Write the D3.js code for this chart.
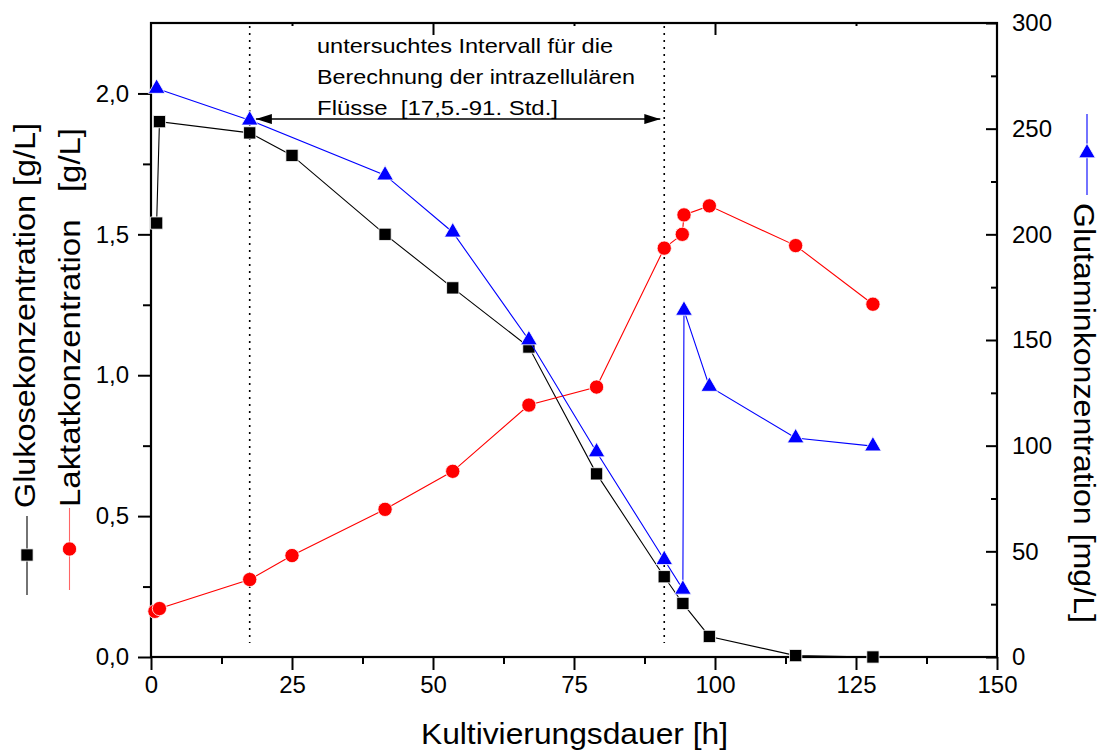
<!DOCTYPE html>
<html>
<head>
<meta charset="utf-8">
<script src="https://cdn.jsdelivr.net/npm/d3@7"></script>
<style>
  body { margin: 0; background: #fff; }
  svg { font-family: "Liberation Sans", Arial, sans-serif; }
  text { white-space: pre; }
</style>
</head>
<body>
<svg id="chart" width="1103" height="753"></svg>
<script>
// glucose (left axis, g/L)
const glcTime = [1, 1.5, 17.5, 25, 41.5, 53.5, 67, 79, 91, 94.3, 99, 114.3, 128]
const glcVal = [1.54, 1.90, 1.86, 1.78, 1.50, 1.31, 1.10, 0.65, 0.285, 0.19, 0.073, 0.005, 0.0]
// lactate (left axis, g/L)
const lacTime = [0.7, 1.5, 17.5, 25, 41.5, 53.5, 67, 79, 91, 94.2, 94.5, 99, 114.3, 128]
const lacVal = [0.162, 0.172, 0.275, 0.36, 0.524, 0.659, 0.894, 0.958, 1.451, 1.50, 1.569, 1.601, 1.46, 1.252]
// glutamine (right axis, mg/L)
const glnTime = [1, 17.5, 41.5, 53.5, 67, 79, 91, 94.3, 94.5, 99, 114.3, 128]
const glnVal = [269, 254, 228, 201, 150, 97, 46, 32, 164, 128, 103.6, 99.8]

const xTicks = [0, 25, 50, 75, 100, 125, 150]
const xMinor = [12.5, 37.5, 62.5, 87.5, 112.5, 137.5]
const yLTicks = [0, 0.5, 1.0, 1.5, 2.0]
const yLMinor = [0.25, 0.75, 1.25, 1.75]
const yRTicks = [0, 50, 100, 150, 200, 250, 300]
const yRMinor = [25, 75, 125, 175, 225, 275]
const intervalLines = [17.5, 91]
const noteLines = ['untersuchtes Intervall für die', 'Berechnung der intrazellulären', 'Flüsse  [17,5.-91. Std.]']

const svg = d3.select('#chart')
const L = 151, R = 997, T = 23, B = 657
const x = d3.scaleLinear().domain([0, 150]).range([L, R])
const yL = d3.scaleLinear().domain([0, 2.25]).range([B, T])
const yR = d3.scaleLinear().domain([0, 300]).range([B, T])
const comma = d => d3.format('.1f')(d).replace('.', ',')

function styleAxis(g, w) {
  g.select('.domain').remove()
  g.selectAll('line').attr('stroke', '#000').attr('stroke-width', w)
  g.selectAll('text').attr('font-size', 24).attr('fill', '#000').attr('font-family', null)
}

// bottom
svg.append('g').attr('transform', `translate(0,${B})`)
  .call(d3.axisBottom(x).tickValues(xMinor).tickSize(7).tickFormat(''))
  .call(g => styleAxis(g, 2))
svg.append('g').attr('transform', `translate(0,${B})`)
  .call(d3.axisBottom(x).tickValues(xTicks).tickSize(13).tickPadding(6).tickFormat(d3.format('d')))
  .call(g => styleAxis(g, 2))
// top (inward)
svg.append('g').attr('transform', `translate(0,${T})`)
  .call(d3.axisTop(x).tickValues([50, 100]).tickSize(-12).tickFormat(''))
  .call(g => styleAxis(g, 2))
svg.append('g').attr('transform', `translate(0,${T})`)
  .call(d3.axisTop(x).tickValues([25, 75, 125]).tickSize(-3).tickFormat(''))
  .call(g => styleAxis(g, 2))
// left
svg.append('g').attr('transform', `translate(${L},0)`)
  .call(d3.axisLeft(yL).tickValues(yLMinor).tickSize(8).tickFormat(''))
  .call(g => styleAxis(g, 2))
svg.append('g').attr('transform', `translate(${L},0)`)
  .call(d3.axisLeft(yL).tickValues(yLTicks).tickSize(13).tickPadding(9).tickFormat(comma))
  .call(g => styleAxis(g, 2))
// right (ticks inward)
svg.append('g').attr('transform', `translate(${R},0)`)
  .call(d3.axisRight(yR).tickValues(yRMinor).tickSize(-6).tickFormat(''))
  .call(g => styleAxis(g, 2))
svg.append('g').attr('transform', `translate(${R},0)`)
  .call(d3.axisRight(yR).tickValues(yRTicks).tickSize(-11).tickPadding(15).tickFormat(d3.format('d')))
  .call(g => styleAxis(g, 2))

// frame
svg.append('rect').attr('x', L).attr('y', T).attr('width', R - L).attr('height', B - T)
  .attr('fill', 'none').attr('stroke', '#000').attr('stroke-width', 2.2)

// interval lines
svg.selectAll('.vline').data(intervalLines).join('line').attr('class', 'vline')
  .attr('x1', d => x(d)).attr('x2', d => x(d)).attr('y1', T + 3).attr('y2', B - 14)
  .attr('stroke', '#000').attr('stroke-width', 1.6).attr('stroke-dasharray', '2,5')

// double arrow
const defs = svg.append('defs')
defs.append('marker').attr('id', 'ah').attr('viewBox', '0 0 16 10').attr('refX', 16).attr('refY', 5)
  .attr('markerWidth', 16).attr('markerHeight', 10).attr('markerUnits', 'userSpaceOnUse').attr('orient', 'auto-start-reverse')
  .append('path').attr('d', 'M0,0L16,5L0,10Z').attr('fill', '#000')
svg.append('line')
  .attr('x1', x(18.6)).attr('x2', x(90.3)).attr('y1', yL(1.909)).attr('y2', yL(1.909))
  .attr('stroke', '#000').attr('stroke-width', 1.5)
  .attr('marker-start', 'url(#ah)').attr('marker-end', 'url(#ah)')

// note
const noteLen = [296, 318, 241]
svg.selectAll('.note').data(noteLines).join('text').attr('class', 'note')
  .attr('x', 317).attr('y', (d, i) => 53 + i * 31)
  .attr('font-size', 21).attr('textLength', (d, i) => noteLen[i]).attr('lengthAdjust', 'spacingAndGlyphs')
  .text(d => d)

// series
const series = [
  {t: glcTime, v: glcVal, y: yL, color: '#000', sym: d3.symbolSquare, size: 150},
  {t: lacTime, v: lacVal, y: yL, color: '#ff0000', sym: d3.symbolCircle, size: 160},
  {t: glnTime, v: glnVal, y: yR, color: '#0000ff', sym: d3.symbolTriangle, size: 120}
]
series.forEach(s => {
  const pts = s.t.map((t, i) => [t, s.v[i]])
  const line = d3.line().x(d => x(d[0])).y(d => s.y(d[1]))
  svg.append('path').attr('d', line(pts)).attr('fill', 'none').attr('stroke', s.color).attr('stroke-width', 1.1)
  svg.append('g').selectAll('path').data(pts).join('path')
    .attr('transform', d => `translate(${x(d[0])},${s.y(d[1])})`)
    .attr('d', d3.symbol().type(s.sym).size(s.size))
    .attr('fill', s.color).attr('stroke', '#fff').attr('stroke-width', 0.8)
})

// legend labels left
const legend = svg.append('g')
legend.append('text').attr('transform', 'translate(35,508) rotate(-90)')
  .attr('font-size', 29).attr('textLength', 385).attr('lengthAdjust', 'spacingAndGlyphs')
  .text('Glukosekonzentration [g/L]')
legend.append('text').attr('transform', 'translate(80,507) rotate(-90)')
  .attr('font-size', 29).attr('textLength', 379).attr('lengthAdjust', 'spacingAndGlyphs')
  .text('Laktatkonzentration   [g/L]')
legend.append('text').attr('transform', 'translate(1074,203) rotate(90)')
  .attr('font-size', 29).attr('textLength', 420).attr('lengthAdjust', 'spacingAndGlyphs')
  .text('Glutaminkonzentration [mg/L]')

// legend symbols
const legendKeys = [
  {cx: 27, y1: 516, y2: 595, cy: 555, color: '#000', sym: d3.symbolSquare, size: 150},
  {cx: 69.5, y1: 508, y2: 590, cy: 549, color: '#ff0000', sym: d3.symbolCircle, size: 160},
  {cx: 1087, y1: 114, y2: 195, cy: 153, color: '#0000ff', sym: d3.symbolTriangle, size: 120}
]
legendKeys.forEach(k => {
  legend.append('line').attr('x1', k.cx).attr('x2', k.cx).attr('y1', k.y1).attr('y2', k.y2)
    .attr('stroke', k.color).attr('stroke-width', 1.1).attr('stroke-opacity', k.color === '#ff0000' ? 0.6 : 1)
  legend.append('path').attr('transform', `translate(${k.cx},${k.cy})`)
    .attr('d', d3.symbol().type(k.sym).size(k.size)).attr('fill', k.color).attr('stroke', '#fff').attr('stroke-width', 0.8)
})

// x title
svg.append('text').attr('x', 421).attr('y', 744)
  .attr('font-size', 29).attr('textLength', 307).attr('lengthAdjust', 'spacingAndGlyphs')
  .text('Kultivierungsdauer [h]')
</script>
</body>
</html>
